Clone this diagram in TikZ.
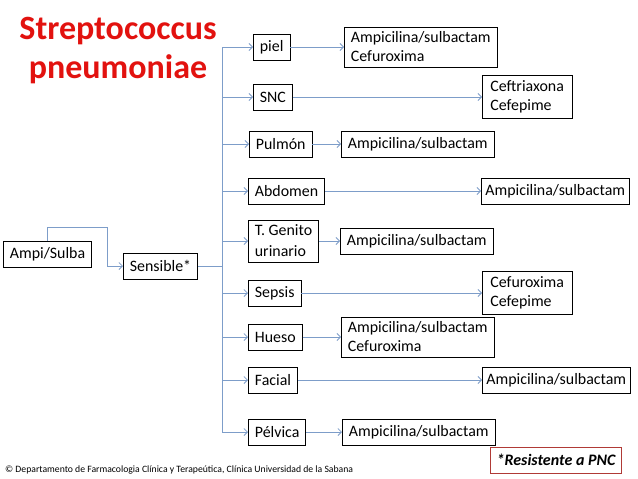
\documentclass[tikz,border=0pt]{standalone}
\usepackage{fontspec}
\setmainfont{Carlito}
\usetikzlibrary{arrows.meta}
\definecolor{linkblue}{HTML}{7D9DC9}
\definecolor{titlered}{HTML}{E2120F}
\definecolor{notered}{HTML}{B03A36}

\begin{document}
\begin{tikzpicture}[x=1pt,y=-1pt,>={Straight Barb[length=3.5pt,width=7pt]},
  box/.style={draw,line width=0.8pt,font=\fontsize{15.9}{19}\selectfont,inner xsep=6.5pt,inner ysep=5pt,minimum height=26pt,anchor=west,align=left},
  link/.style={->,linkblue,line width=0.8pt}]
\useasboundingbox (0,0) rectangle (638,479);
% title
\node[text=titlered,font=\bfseries\fontsize{34}{39}\selectfont,align=center,inner sep=0pt] (title) at (118,51) {Streptococcus\\pneumoniae};
% left part
\node[box] (ampi) at (3,254) {Ampi/Sulba};
\node[box] (sens) at (123,266) {Sensible*};
% sites
\node[box] (piel) at (253,47) {piel};
\node[box] (snc) at (253,97) {SNC};
\node[box] (pulmon) at (249,144) {Pulmón};
\node[box] (abdomen) at (248,191) {Abdomen};
\node[box,font=\fontsize{15.9}{21}\selectfont] (genito) at (248,241) {T. Genito\\urinario};
\node[box] (sepsis) at (248,293) {Sepsis};
\node[box] (hueso) at (248,337) {Hueso};
\node[box] (facial) at (248,380) {Facial};
\node[box] (pelvica) at (248,432) {Pélvica};
% treatments
\node[box] (pielT) at (344,47) {Ampicilina/sulbactam\\Cefuroxima};
\node[box,inner xsep=8pt] (sncT) at (482,97) {Ceftriaxona\\Cefepime};
\node[box] (pulmonT) at (341,144) {Ampicilina/sulbactam};
\node[box,inner xsep=4pt] (abdomenT) at (481,191) {Ampicilina/sulbactam};
\node[box] (genitoT) at (340,241) {Ampicilina/sulbactam};
\node[box,inner xsep=8pt] (sepsisT) at (482,293) {Cefuroxima\\Cefepime};
\node[box] (huesoT) at (341,337) {Ampicilina/sulbactam\\Cefuroxima};
\node[box,inner xsep=4pt] (facialT) at (482,380) {Ampicilina/sulbactam};
\node[box] (pelvicaT) at (342,432) {Ampicilina/sulbactam};
% note and footer
\node[draw=notered,line width=0.8pt,font=\bfseries\itshape\fontsize{16}{18}\selectfont,minimum height=26pt,inner xsep=6pt] (note) at (556,460) {*Resistente a PNC};
\node[anchor=west,font=\fontsize{9.7}{11}\selectfont,inner sep=0pt] (footer) at (5,470) {© Departamento de Farmacologia Clínica y Terapeútica, Clínica Universidad de la Sabana};
% connectors
\draw[link] (ampi.north) -- ++(0,-13) -| ([xshift=-16pt]sens.west) -- (sens.west);
\foreach \n in {piel,snc,pulmon,abdomen,genito,sepsis,hueso,facial,pelvica}{
  \draw[link] (sens.east) -- ++(24,0) |- (\n.west);
  \draw[link] (\n.east) -- (\n T.west |- \n.east);
}
\end{tikzpicture}
\end{document}
